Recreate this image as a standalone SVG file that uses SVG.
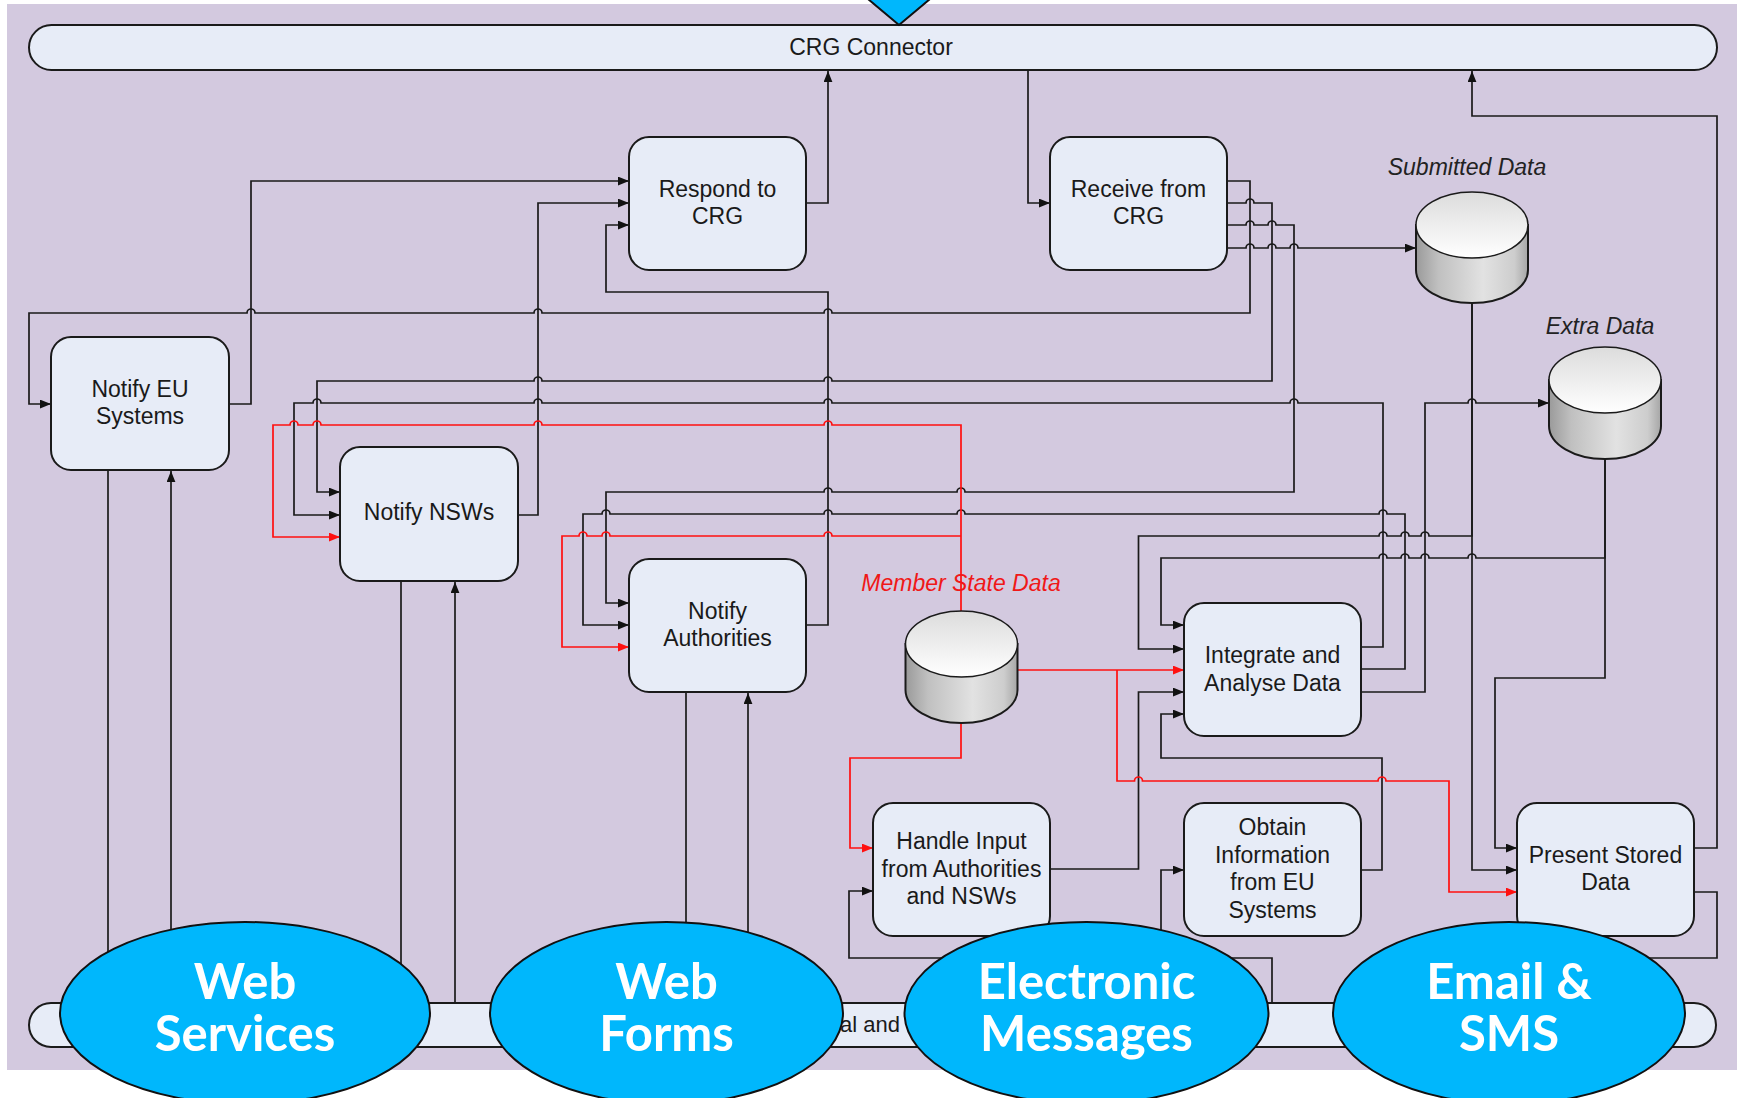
<svg xmlns="http://www.w3.org/2000/svg" width="1741" height="1098" viewBox="0 0 1741 1098">
<defs>
<style>
.box{fill:#E7ECF7;stroke:#1a1a1a;stroke-width:2}
.bt{font-family:"Liberation Sans",Arial,sans-serif;font-size:23px;fill:#1a1a1a;text-anchor:middle}
.lbl{font-family:"Liberation Sans",Arial,sans-serif;font-size:23px;font-style:italic;fill:#222;text-anchor:middle}
.c{fill:none;stroke:#1a1a1a;stroke-width:1.7;marker-end:url(#ab)}
.cn{fill:none;stroke:#1a1a1a;stroke-width:1.7}
.r{fill:none;stroke:#FF1010;stroke-width:1.7;marker-end:url(#ar)}
.el{fill:#00B7FC;stroke:#111;stroke-width:2}
.et{font-family:Lato,"Open Sans",sans-serif;font-weight:700;font-size:49px;fill:#fff;text-anchor:middle}
.cylb{fill:url(#cylBody);stroke:#1a1a1a;stroke-width:2}
.cylt{fill:url(#cylTop);stroke:#1a1a1a;stroke-width:1.5}
</style>
<marker id="ab" viewBox="0 0 10 8" refX="10" refY="4" markerWidth="11" markerHeight="9" markerUnits="userSpaceOnUse" orient="auto"><path d="M0,0 L10,4 L0,8 z" fill="#111"/></marker>
<marker id="ar" viewBox="0 0 10 8" refX="10" refY="4" markerWidth="11" markerHeight="9" markerUnits="userSpaceOnUse" orient="auto"><path d="M0,0 L10,4 L0,8 z" fill="#FF1010"/></marker>
<linearGradient id="cylBody" x1="0" y1="0" x2="1" y2="0">
<stop offset="0" stop-color="#9a9a9a"/><stop offset="0.2" stop-color="#c0c0c0"/><stop offset="0.6" stop-color="#e2e2e2"/><stop offset="0.88" stop-color="#cdcdcd"/><stop offset="1" stop-color="#a6a6a6"/>
</linearGradient>
<linearGradient id="cylTop" x1="0" y1="0" x2="0" y2="1">
<stop offset="0" stop-color="#dcdcdc"/><stop offset="1" stop-color="#ffffff"/>
</linearGradient>
</defs>
<rect x="0" y="0" width="1741" height="1098" fill="#ffffff"/>
<rect x="7" y="4" width="1730" height="1066" fill="#D3C9DF"/>

<g id="crg-connector">
<rect x="29" y="25" width="1688" height="45" rx="22.5" class="box"/>
<text x="871" y="55" class="bt">CRG Connector</text>
</g>
<g id="bottom-bar">
<rect x="29" y="1003" width="1687" height="44" rx="22" class="box"/>
<text x="840" y="1032" style="font-family:'Liberation Sans',Arial,sans-serif;font-size:22px;fill:#1a1a1a">al and</text>
</g>

<g id="connectors">
<path class="c" d="M229,404 H251 V181 H629"/>
<path class="c" d="M517,515 H538 V203 H629"/>
<path class="c" d="M806,625 H828 V292 H606 V225 H629"/>
<path class="c" d="M806,203 H828 V71"/>
<path class="c" d="M1028,70 V203 H1050"/>
<path class="c" d="M1227,181 H1250 V313 H832 A4,4 0 0 0 824,313 H542 A4,4 0 0 0 534,313 H255 A4,4 0 0 0 247,313 H29 V404 H51"/>
<path class="c" d="M1227,203 H1246 A4,4 0 0 1 1254,203 H1272 V381 H832 A4,4 0 0 0 824,381 H542 A4,4 0 0 0 534,381 H317 V492 H340"/>
<path class="c" d="M1227,225 H1246 A4,4 0 0 1 1254,225 H1268 A4,4 0 0 1 1276,225 H1294 V492 H965 A4,4 0 0 0 957,492 H832 A4,4 0 0 0 824,492 H606 V603 H629"/>
<path class="c" d="M1227,248 H1246 A4,4 0 0 1 1254,248 H1268 A4,4 0 0 1 1276,248 H1290 A4,4 0 0 1 1298,248 H1416"/>
<path class="c" d="M1361,647 H1383 V403 H1298 A4,4 0 0 0 1290,403 H832 A4,4 0 0 0 824,403 H542 A4,4 0 0 0 534,403 H321 A4,4 0 0 0 313,403 H294 V515 H340"/>
<path class="c" d="M1361,669 H1405 V514 H1387 A4,4 0 0 0 1379,514 H965 A4,4 0 0 0 957,514 H832 A4,4 0 0 0 824,514 H610 A4,4 0 0 0 602,514 H583 V625 H629"/>
<path class="c" d="M1361,692 H1425 V403 H1468 A4,4 0 0 1 1476,403 H1549"/>
<path class="c" d="M1472,303 V536 H1429 A4,4 0 0 0 1421,536 H1409 A4,4 0 0 0 1401,536 H1387 A4,4 0 0 0 1379,536 H1138.5 V649 H1184"/>
<path class="c" d="M1472,303 V870 H1517"/>
<path class="c" d="M1605,459 V558 H1476 A4,4 0 0 0 1468,558 H1429 A4,4 0 0 0 1421,558 H1409 A4,4 0 0 0 1401,558 H1387 A4,4 0 0 0 1379,558 H1161 V625 H1184"/>
<path class="c" d="M1605,459 V678 H1495 V848 H1517"/>
<path class="c" d="M1050,869 H1138.5 V692 H1184"/>
<path class="c" d="M1361,870 H1382 V758 H1161 V714 H1184"/>
<path class="c" d="M1694,848 H1717 V116 H1472 V71"/>
<path class="cn" d="M1694,892 H1717 V958 H1560 V1003"/>
<path class="c" d="M1272,1003 V958 H849 V891 H873"/>
<path class="c" d="M1161,1003 V870 H1184"/>
<path class="c" d="M108,470 V1003"/>
<path class="c" d="M171,1003 V471"/>
<path class="c" d="M401,581 V1003"/>
<path class="c" d="M455,1003 V582"/>
<path class="c" d="M686,692 V1003"/>
<path class="c" d="M748,1003 V693"/>
<path class="r" d="M961,612 V425 H832 A4,4 0 0 0 824,425 H542 A4,4 0 0 0 534,425 H321 A4,4 0 0 0 313,425 H298 A4,4 0 0 0 290,425 H273 V537 H340"/>
<path class="r" d="M961,536 H832 A4,4 0 0 0 824,536 H610 A4,4 0 0 0 602,536 H587 A4,4 0 0 0 579,536 H562 V647 H629"/>
<path class="r" d="M1017,670 H1184"/>
<path class="r" d="M1117,670 V781 H1134.5 A4,4 0 0 1 1142.5,781 H1378 A4,4 0 0 1 1386,781 H1449 V892 H1517"/>
<path class="r" d="M961,723 V758 H850 V848 H873"/>
</g>

<g id="notify-eu-systems">
<rect x="51" y="337" width="178" height="133" rx="20" class="box"/>
<text class="bt"><tspan x="140" y="396.5">Notify EU</tspan><tspan x="140" y="424.2">Systems</tspan></text>
</g>
<g id="notify-nsws">
<rect x="340" y="447" width="178" height="134" rx="20" class="box"/>
<text x="429" y="520" class="bt">Notify NSWs</text>
</g>
<g id="respond-to-crg">
<rect x="629" y="137" width="177" height="133" rx="20" class="box"/>
<text class="bt"><tspan x="717.5" y="196.5">Respond to</tspan><tspan x="717.5" y="224.2">CRG</tspan></text>
</g>
<g id="notify-authorities">
<rect x="629" y="559" width="177" height="133" rx="20" class="box"/>
<text class="bt"><tspan x="717.5" y="618.7">Notify</tspan><tspan x="717.5" y="646.4">Authorities</tspan></text>
</g>
<g id="receive-from-crg">
<rect x="1050" y="137" width="177" height="133" rx="20" class="box"/>
<text class="bt"><tspan x="1138.5" y="196.5">Receive from</tspan><tspan x="1138.5" y="224.2">CRG</tspan></text>
</g>
<g id="integrate-analyse">
<rect x="1184" y="603" width="177" height="133" rx="20" class="box"/>
<text class="bt"><tspan x="1272.5" y="662.8">Integrate and</tspan><tspan x="1272.5" y="690.5">Analyse Data</tspan></text>
</g>
<g id="handle-input">
<rect x="873" y="803" width="177" height="133" rx="20" class="box"/>
<text class="bt"><tspan x="961.5" y="848.8">Handle Input</tspan><tspan x="961.5" y="876.5">from Authorities</tspan><tspan x="961.5" y="904.2">and NSWs</tspan></text>
</g>
<g id="obtain-information">
<rect x="1184" y="803" width="177" height="133" rx="20" class="box"/>
<text class="bt"><tspan x="1272.5" y="834.8">Obtain</tspan><tspan x="1272.5" y="862.5">Information</tspan><tspan x="1272.5" y="890.2">from EU</tspan><tspan x="1272.5" y="917.9">Systems</tspan></text>
</g>
<g id="present-stored-data">
<rect x="1517" y="803" width="177" height="133" rx="20" class="box"/>
<text class="bt"><tspan x="1605.5" y="862.5">Present Stored</tspan><tspan x="1605.5" y="890.2">Data</tspan></text>
</g>

<g id="submitted-data">
<path class="cylb" d="M1416,225 V270 A56,33 0 0 0 1528,270 V225 Z"/>
<ellipse cx="1472" cy="225" rx="56" ry="33" class="cylt"/>
<text x="1467" y="175" class="lbl">Submitted Data</text>
</g>
<g id="extra-data">
<path class="cylb" d="M1549,380 V426 A56,33 0 0 0 1661,426 V380 Z"/>
<ellipse cx="1605" cy="380" rx="56" ry="33" class="cylt"/>
<text x="1600" y="334" class="lbl">Extra Data</text>
</g>
<g id="member-state-data">
<path class="cylb" d="M905.5,644 V690 A56,33 0 0 0 1017.5,690 V644 Z"/>
<ellipse cx="961.5" cy="644" rx="56" ry="33" class="cylt"/>
<text x="961" y="591" class="lbl" style="fill:#F01818">Member State Data</text>
</g>

<g id="web-services">
<ellipse cx="245" cy="1013" rx="185" ry="91" class="el"/>
<text class="et"><tspan x="245" y="999">Web</tspan><tspan x="245" y="1051">Services</tspan></text>
</g>
<g id="web-forms">
<ellipse cx="666.5" cy="1013" rx="176.5" ry="91" class="el"/>
<text class="et"><tspan x="666.5" y="999">Web</tspan><tspan x="666.5" y="1051">Forms</tspan></text>
</g>
<g id="electronic-messages">
<ellipse cx="1086.5" cy="1013" rx="182" ry="91" class="el"/>
<text class="et"><tspan x="1086.5" y="999">Electronic</tspan><tspan x="1086.5" y="1051">Messages</tspan></text>
</g>
<g id="email-sms">
<ellipse cx="1509" cy="1013" rx="176" ry="91" class="el"/>
<text class="et"><tspan x="1509" y="999">Email &amp;</tspan><tspan x="1509" y="1051">SMS</tspan></text>
</g>
<g id="top-marker">
<polygon points="868,-1 930,-1 899,25" fill="#00B7FC" stroke="#111" stroke-width="2"/>
</g>
</svg>
